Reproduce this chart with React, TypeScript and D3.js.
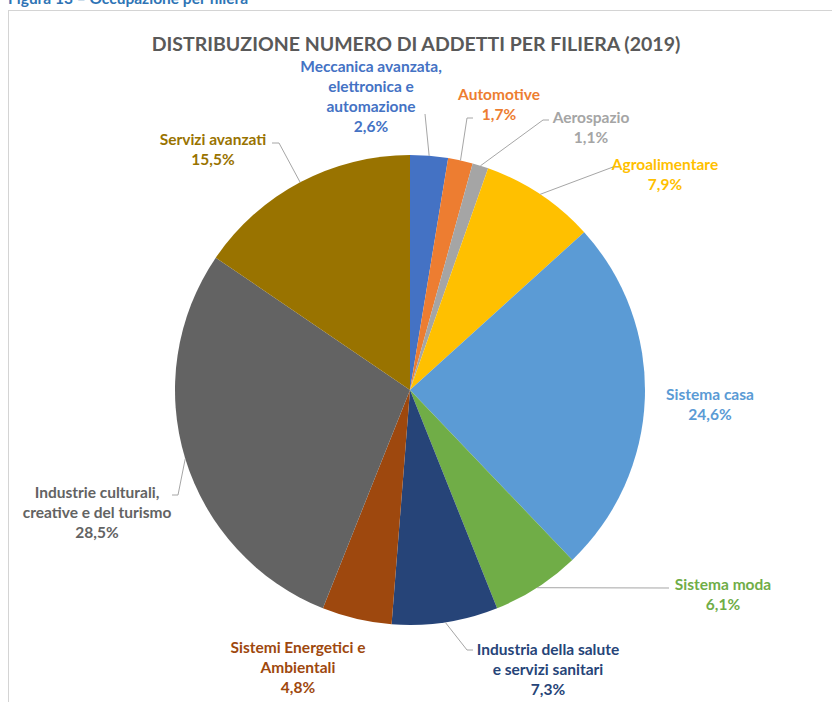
import * as d3 from "d3"

const categories = [
  "Meccanica avanzata, elettronica e automazione",
  "Automotive",
  "Aerospazio",
  "Agroalimentare",
  "Sistema casa",
  "Sistema moda",
  "Industria della salute e servizi sanitari",
  "Sistemi Energetici e Ambientali",
  "Industrie culturali, creative e del turismo",
  "Servizi avanzati",
]
const shares = [2.6, 1.7, 1.1, 7.9, 24.6, 6.1, 7.3, 4.8, 28.5, 15.5]
const colors = [
  "#4472C4", "#ED7D31", "#A5A5A5", "#FFC000", "#5B9BD5",
  "#70AD47", "#264478", "#9E480E", "#636363", "#997300",
]

// label text lines (per slice) and where they sit on the page
const labelLines = [
  ["Meccanica avanzata,", "elettronica e", "automazione"],
  ["Automotive"],
  ["Aerospazio"],
  ["Agroalimentare"],
  ["Sistema casa"],
  ["Sistema moda"],
  ["Industria della salute", "e servizi sanitari"],
  ["Sistemi Energetici e", "Ambientali"],
  ["Industrie culturali,", "creative e del turismo"],
  ["Servizi avanzati"],
]
// x = center of label, y = first baseline, leader = elbow points (null: none)
const labelLayout: { x: number; y: number; leader: [number, number][] | null }[] = [
  { x: 371, y: 72, leader: [[425, 114]] },
  { x: 499, y: 100, leader: [[467, 118], [473, 118]] },
  { x: 591, y: 123, leader: [[543, 120], [549, 120]] },
  { x: 665, y: 170, leader: [[613, 167], [619, 167]] },
  { x: 710, y: 400, leader: null },
  { x: 723, y: 590, leader: [[669, 588]] },
  { x: 548, y: 655, leader: [[467, 650], [473, 650]] },
  { x: 298, y: 653, leader: null },
  { x: 97, y: 498, leader: [[178, 495], [172, 495]] },
  { x: 213, y: 145, leader: [[279, 143], [272, 143]] },
]

const W = 832
const H = 702
const cx = 410
const cy = 390
const radius = 235
const lineH = 20
const font = "Lato, 'Open Sans', sans-serif"

const fmt = (v: number) => v.toFixed(1).replace(".", ",") + "%"

export default function App() {
  const pie = d3
    .pie<number>()
    .sort(null)
    .value((d) => d)
  const arcs = pie(shares)
  const arc = d3.arc<d3.PieArcDatum<number>>().innerRadius(0).outerRadius(radius)

  return (
    <svg
      width={W}
      height={H}
      style={{ position: "absolute", left: 0, top: 0, background: "#fff" }}
      fontFamily={font}
    >
      <rect x={8.5} y={10.5} width={W + 10} height={H} fill="#fff" stroke="#d4d4d4" />
      <text x={8} y={4} fontSize={15.5} fontWeight={700} fill="#2E74B5">
        Figura 13 – Occupazione per filiera
      </text>
      <text x={416} y={51} textAnchor="middle" fontSize={19.5} fontWeight={700} fill="#595959">
        DISTRIBUZIONE NUMERO DI ADDETTI PER FILIERA (2019)
      </text>

      <g transform={`translate(${cx},${cy})`}>
        {arcs.map((a, i) => (
          <path key={categories[i]} d={arc(a) ?? ""} fill={colors[i]} />
        ))}
      </g>

      {arcs.map((a, i) => {
        const lay = labelLayout[i]
        if (!lay.leader) return null
        const mid = (a.startAngle + a.endAngle) / 2
        const p0: [number, number] = [cx + radius * Math.sin(mid), cy - radius * Math.cos(mid)]
        const pts = [p0, ...lay.leader]
        return (
          <path
            key={"l" + i}
            d={d3.line()(pts) ?? ""}
            fill="none"
            stroke="#A6A6A6"
            strokeWidth={1}
          />
        )
      })}

      {arcs.map((a, i) => {
        const lay = labelLayout[i]
        const lines = [...labelLines[i], fmt(shares[i])]
        return (
          <text
            key={"t" + i}
            textAnchor="middle"
            fontSize={15.5}
            fontWeight={700}
            fill={colors[i]}
          >
            {lines.map((t, j) => (
              <tspan key={j} x={lay.x} y={lay.y + j * lineH}>
                {t}
              </tspan>
            ))}
          </text>
        )
      })}
    </svg>
  )
}
